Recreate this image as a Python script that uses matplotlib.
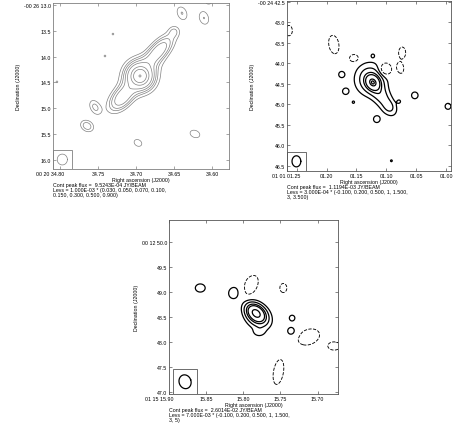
import numpy as np
import matplotlib
matplotlib.use('Agg')
from matplotlib import pyplot as plt
from matplotlib.patches import Rectangle
from matplotlib.transforms import ScaledTranslation

plt.rcParams['font.family'] = ['Liberation Sans', 'DejaVu Sans']
plt.rcParams['font.size'] = 3.8

# ---------------- panel 1 (grey map), flux unit 1e-3 Jy/beam
p1_ra   = [34.6947, 34.6947, 34.6697, 34.7184, 34.6947, 34.6500, 34.6526,
           34.7540, 34.7645, 34.6974, 34.6224, 34.6395, 34.6105, 34.6040,
           34.7408, 34.7303, 34.8040]
p1_dec  = [14.376, 14.376, 13.880, 14.802, 14.337, 13.510, 14.240,
           14.977, 15.345, 15.674, 15.500, 13.155, 13.252, 12.900,
           13.988, 13.562, 14.490]
p1_amp  = [0.68, 0.20, 0.12, 0.125, 0.03, 0.04, 0.025,
           0.055, 0.065, 0.04, 0.04, 0.05, 0.05, 0.04,
           0.033, 0.033, 0.033]
p1_smaj = [0.10, 0.20, 0.24, 0.20, 0.62, 0.08, 0.10,
           0.12, 0.105, 0.105, 0.13, 0.12, 0.12, 0.10,
           0.04, 0.04, 0.04]
p1_smin = [0.10, 0.20, 0.11, 0.12, 0.15, 0.08, 0.10,
           0.08, 0.08, 0.08, 0.09, 0.085, 0.085, 0.10,
           0.04, 0.04, 0.04]
p1_ang  = [0, 0, 47, 47, 47, 0, 0,
           120, -30, -30, -20, 115, 110, 0,
           0, 0, 0]
p1_levs = [0.030, 0.050, 0.070, 0.100, 0.150, 0.300, 0.500, 0.900]
p1_beam = [0.21, 0.20, 0]
p1_xticks = [34.80, 34.75, 34.70, 34.65, 34.60]
p1_xlabels = ['00 20 34.80', '34.75', '34.70', '34.65', '34.60']
p1_yticks = [13.0, 13.5, 14.0, 14.5, 15.0, 15.5, 16.0]
p1_ylabels = ['-00 26 13.0', '13.5', '14.0', '14.5', '15.0', '15.5', '16.0']
p1_text = ('Cont peak flux =  9.5243E-04 JY/BEAM\n'
           'Levs = 1.000E-03 * (0.030, 0.050, 0.070, 0.100,\n'
           '0.150, 0.300, 0.500, 0.900)')

# ---------------- panel 2, flux unit 3e-4 Jy/beam
p2_ra   = [1.1225, 1.1258, 1.1090, 1.0950,
           1.1748, 1.1683, 1.0523, 0.9967, 1.1160,
           1.1225, 1.1552, 1.0784, 1.0915,
           1.2631, 1.1879, 1.1536, 1.1030, 1.0735, 1.0768]
p2_dec  = [44.466, 44.393, 44.780, 45.070,
           44.272, 44.684, 44.782, 45.050, 45.364,
           43.810, 44.950, 44.930, 46.380,
           43.200, 43.540, 43.880, 44.160, 43.740, 44.110]
p2_amp  = [2.45, 0.90, 0.70, 0.35,
           0.30, 0.30, 0.30, 0.30, 0.30,
           0.22, 0.22, 0.22, 0.22,
           -0.22, -0.22, -0.22, -0.50, -0.22, -0.22]
p2_smaj = [0.12, 0.24, 0.32, 0.12,
           0.08, 0.08, 0.09, 0.08, 0.09,
           0.05, 0.05, 0.05, 0.05,
           0.10, 0.18, 0.10, 0.115, 0.11, 0.11]
p2_smin = [0.10, 0.24, 0.13, 0.10,
           0.08, 0.08, 0.09, 0.08, 0.09,
           0.05, 0.05, 0.05, 0.05,
           0.068, 0.10, 0.08, 0.115, 0.07, 0.07]
p2_ang  = [-50, 0, -55, -55,
           0, 0, 0, 0, 0,
           0, 0, 0, 0,
           90, 100, 0, 0, 90, 100]
p2_levs = [-0.100, 0.200, 0.500, 1, 1.500, 3, 3.500]
p2_beam = [0.27, 0.22, 0]
p2_xticks = [1.25, 1.20, 1.15, 1.10, 1.05, 1.00]
p2_xlabels = ['01 01 01.25', '01.20', '01.15', '01.10', '01.05', '01.00']
p2_yticks = [42.5, 43.0, 43.5, 44.0, 44.5, 45.0, 45.5, 46.0, 46.5]
p2_ylabels = ['-00 24 42.5', '43.0', '43.5', '44.0', '44.5', '45.0', '45.5', '46.0', '46.5']
p2_text = ('Cont peak flux =  1.1194E-03 JY/BEAM\n'
           'Levs = 3.000E-04 * (-0.100, 0.200, 0.500, 1, 1.500,\n'
           '3, 3.500)')

# ---------------- panel 3, flux unit 7e-3 Jy/beam
p3_ra   = [15.7829, 15.7803, 15.7789,
           15.8579, 15.8125, 15.7342, 15.7355,
           15.7908, 15.7460, 15.7118, 15.6776, 15.7526]
p3_dec  = [48.58, 48.50, 48.20,
           49.08, 48.98, 48.48, 48.22,
           49.12, 49.08, 48.10, 47.92, 47.40]
p3_amp  = [3.0, 0.8, 0.3,
           0.3, 0.28, 0.28, 0.3,
           -0.25, -0.22, -0.22, -0.22, -0.22]
p3_smaj = [0.13, 0.18, 0.08,
           0.11, 0.14, 0.067, 0.078,
           0.17, 0.072, 0.18, 0.10, 0.20]
p3_smin = [0.09, 0.14, 0.06,
           0.09, 0.13, 0.067, 0.078,
           0.10, 0.056, 0.12, 0.065, 0.08]
p3_ang  = [-40, -45, 0,
           0, 70, 0, 0,
           60, 90, 20, 0, 80]
p3_levs = [-0.100, 0.200, 0.500, 1, 1.500, 3, 5]
p3_beam = [0.28, 0.24, 20]
p3_xticks = [15.90, 15.85, 15.80, 15.75, 15.70]
p3_xlabels = ['01 15 15.90', '15.85', '15.80', '15.75', '15.70']
p3_yticks = [50.0, 49.5, 49.0, 48.5, 48.0, 47.5, 47.0]
p3_ylabels = ['00 12 50.0', '49.5', '49.0', '48.5', '48.0', '47.5', '47.0']
p3_text = ('Cont peak flux =  2.6014E-02 JY/BEAM\n'
           'Levs = 7.000E-03 * (-0.100, 0.200, 0.500, 1, 1.500,\n'
           '3, 5)')


def make_map(xlim, ylim, north, ra, dec, amp, smaj, smin, ang):
  RA, DEC = np.meshgrid(np.linspace(xlim[0], xlim[1], 400),
                        np.linspace(ylim[0], ylim[1], 400))
  img = np.zeros_like(RA)
  for r, d, a, s1, s2, t in zip(ra, dec, amp, smaj, smin, ang):
    x = (r - RA) * 15.0          # arcsec to the right
    y = (DEC - d) * north        # arcsec up
    t = np.deg2rad(t)
    u = x * np.cos(t) + y * np.sin(t)
    v = -x * np.sin(t) + y * np.cos(t)
    img += a * np.exp(-0.5 * ((u / s1) ** 2 + (v / s2) ** 2))
  return RA, DEC, img


def draw_panel(fig, rect, xlim, ylim, north, comps, levs, beam,
               xt, xl, yt, yl, text, color, lw, fcol):
  ax = fig.add_axes(rect)
  RA, DEC, img = make_map(xlim, ylim, north, *comps)
  levs = np.array(levs)
  neg = levs[levs < 0]
  pos = levs[levs > 0]
  if len(neg):
    ax.contour(RA, DEC, img, levels=neg, colors=color, linewidths=lw * 0.7,
               linestyles='dashed')
  ax.contour(RA, DEC, img, levels=pos, colors=color, linewidths=lw,
             linestyles='solid')
  ax.set_xlim(xlim)
  ax.set_ylim(ylim)

  # beam in a box at the bottom left corner
  bmaj, bmin, bpa = beam
  side = 1.75 * bmaj
  x0, y0 = xlim[0], ylim[0]
  cx = x0 - side / 2 / 15.0
  cy = y0 + north * side / 2
  ax.add_patch(Rectangle((x0, y0), -side / 15.0, north * side,
                         fill=False, edgecolor=fcol, lw=0.6))
  tt = np.linspace(0, 2 * np.pi, 100)
  p = np.deg2rad(bpa)
  ex = bmin / 2 * np.cos(tt)
  ey = bmaj / 2 * np.sin(tt)
  sx = ex * np.cos(p) - ey * np.sin(p)
  sy = ex * np.sin(p) + ey * np.cos(p)
  ax.plot(cx - sx / 15.0, cy + sy * north, color=color, lw=lw)

  ax.set_xticks(xt)
  ax.set_xticklabels(xl)
  ax.set_yticks(yt)
  ax.set_yticklabels(yl)
  ax.tick_params(direction='in', length=2.2, width=0.5, pad=1.5, color=fcol,
                 top=True, right=True)
  for s in ax.spines.values():
    s.set_color(fcol)
    s.set_linewidth(0.6)
  ax.set_xlabel('Right ascension (J2000)', labelpad=0.5)
  ax.set_ylabel('Declination (J2000)', labelpad=2)
  lb = ax.get_xticklabels()[0]
  lb.set_ha('right')
  lb.set_transform(lb.get_transform() + ScaledTranslation(4 / 100, 0, fig.dpi_scale_trans))
  ax.annotate(text, xy=(0, 0), xycoords='axes fraction', xytext=(0, -13),
              textcoords='offset pixels', ha='left', va='top', linespacing=1.05)
  return ax


fig = plt.figure(figsize=(4.53, 4.31), dpi=100)

draw_panel(fig, [53 / 453, 1 - 170 / 431, 176 / 453, 166 / 431],
           (34.8092, 34.5776), (16.18, 12.96), -1,
           (p1_ra, p1_dec, p1_amp, p1_smaj, p1_smin, p1_ang),
           p1_levs, p1_beam,
           p1_xticks, p1_xlabels, p1_yticks, p1_ylabels, p1_text,
           '#808080', 0.5, '#808080')

draw_panel(fig, [287 / 453, 1 - 172 / 431, 164 / 453, 170 / 431],
           (1.2663, 0.9917), (46.63, 42.476), -1,
           (p2_ra, p2_dec, p2_amp, p2_smaj, p2_smin, p2_ang),
           p2_levs, p2_beam,
           p2_xticks, p2_xlabels, p2_yticks, p2_ylabels, p2_text,
           'black', 0.9, '#555555')

draw_panel(fig, [169 / 453, 1 - 395 / 431, 169 / 453, 174 / 431],
           (15.8947, 15.6724), (46.96, 50.44), 1,
           (p3_ra, p3_dec, p3_amp, p3_smaj, p3_smin, p3_ang),
           p3_levs, p3_beam,
           p3_xticks, p3_xlabels, p3_yticks, p3_ylabels, p3_text,
           'black', 0.9, '#555555')

fig.savefig('out.png', dpi=100)
